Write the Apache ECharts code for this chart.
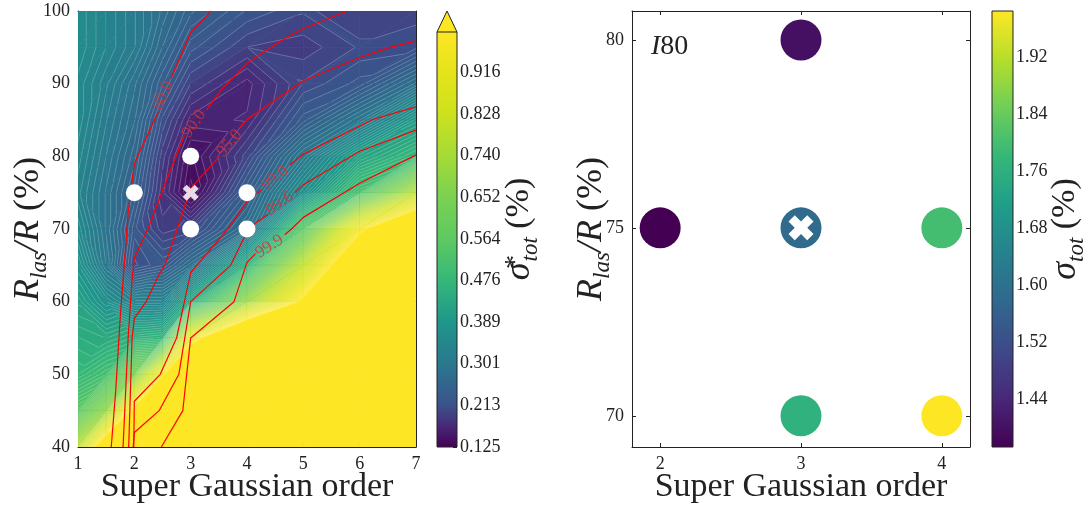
<!DOCTYPE html>
<html>
<head>
<meta charset="utf-8">
<style>html,body{margin:0;padding:0;background:#fff}#c{width:1089px;height:507px}</style>
<script src="https://cdn.jsdelivr.net/npm/echarts@6/dist/echarts.min.js"></script>
</head>
<body>
<div id="c"></div>
<script>
// ---------- data ----------
const fieldX = [1, 1.5, 2, 2.5, 3, 4, 5, 6, 7];
const fieldY = [100, 95, 90, 85, 80, 75, 70, 65, 60, 55, 50, 45, 40];
const fieldRows = [
  [0.36, 0.335, 0.31, 0.28, 0.25, 0.22, 0.205, 0.20, 0.20],
  [0.36, 0.335, 0.31, 0.265, 0.225, 0.195, 0.19, 0.205, 0.21],
  [0.35, 0.32, 0.285, 0.24, 0.195, 0.165, 0.205, 0.225, 0.285],
  [0.35, 0.31, 0.275, 0.21, 0.165, 0.17, 0.235, 0.30, 0.40],
  [0.34, 0.30, 0.26, 0.19, 0.14, 0.20, 0.305, 0.42, 0.48],
  [0.33, 0.29, 0.245, 0.18, 0.13, 0.24, 0.37, 0.52, 0.78],
  [0.35, 0.29, 0.225, 0.19, 0.20, 0.28, 0.56, 0.97, 1.25],
  [0.38, 0.30, 0.21, 0.23, 0.28, 0.46, 0.80, 1.2, 1.5],
  [0.42, 0.37, 0.33, 0.33, 0.44, 0.71, 1.03, 1.5, 1.8],
  [0.45, 0.44, 0.46, 0.47, 0.93, 1.3, 1.6, 2.0, 2.0],
  [0.475, 0.51, 0.65, 0.98, 1.3, 1.6, 2.0, 2.0, 2.0],
  [0.56, 0.70, 1.05, 1.4, 1.6, 2.0, 2.0, 2.0, 2.0],
  [0.78, 1.15, 1.5, 2.0, 2.0, 2.0, 2.0, 2.0, 2.0]
];
const GAP = ['-', '-'];
const contour80 = [[3.36,100],[3,97],[2.65,90.7],GAP,[2.42,86.1],[2,79],[1.89,72.2],[1.82,65],[1.75,57.9],[1.67,47.8],[1.59,40]];
const contour90 = [[5.78,100],[5,97.6],[4.58,95.8],[4,92.8],[3.57,89.4],[3.28,86.4],GAP,[2.89,82.9],[2.57,76.7],[2.24,70],[2,66],[1.96,63],[1.89,55],[1.8,40]];
const contour95 = [[7,95.9],[6.54,95],[6,93.6],[5,90.4],[4,85.1],[3.87,83.9],GAP,[3.51,80],[3,75.6],[2.76,70],[2.54,65],[2.45,63.9],[2.21,60],[2,57.7],[1.96,55],[1.9,40]];
const contour990 = [[7,86.8],[6.24,85.1],[5,80.3],[4.76,78.8],GAP,[4.25,75.4],[4,73.8],[3.66,70],[3,64],[2.75,55],[2.46,50],[2,46.3],[1.99,40]];
const contour996 = [[7,83.6],[6,80.7],[5,76.1],[4.85,75],GAP,[4.37,72],[4,70],[3.96,69],[3.71,65],[3,60],[2.79,50],[2.44,45],[2,42],[1.98,40]];
const contour999 = [[7,80.2],[6,76.3],[5,71.6],[4.79,70],[4.67,69.2],GAP,[4.15,66.6],[4,65.4],[3.77,60],[3,55],[2.86,45],[2.48,40]];
const contourLabels = [
  [2.51, 88.4, '80.0', 68], [3.06, 84.5, '90.0', 55], [3.69, 81.8, '95.0', 50],
  [4.49, 77, '99.0', 38], [4.58, 73.5, '99.6', 36], [4.4, 67.6, '99.9', 33]
];
const leftPoints = [[2,75],[3,80],[3,70],[4,75],[4,70]];
const leftBest = [[3,75]];
const rightX = [2, 3, 3, 3, 4, 4];
const rightY = [75, 80, 75, 70, 75, 70];
const rightValues = [1.373, 1.40, 1.585, 1.765, 1.80, 1.985];
const rightBest = [[3,75]];
const leftBarTicks = [0.125,0.213,0.301,0.389,0.476,0.564,0.652,0.740,0.828,0.916];
const leftBarMinor = [0.169,0.257,0.345,0.433,0.520,0.608,0.696,0.784,0.872,0.960];
const rightBarTicks = [1.44,1.52,1.60,1.68,1.76,1.84,1.92];
const rightXTicks = [2,3,4];
const rightYTicks = [70,75,80];
const leftMapStops = [
  [0.125,'#440154'],[0.169,'#482878'],[0.213,'#3b528b'],[0.301,'#2a788e'],[0.389,'#1f968b'],
  [0.476,'#35b779'],[0.564,'#5ec962'],[0.652,'#7ad151'],[0.740,'#a5db36'],[0.828,'#cde11d'],[0.916,'#e5e419'],[1.001,'#fde725']
];
const viridis = ['#440154','#482878','#3e4989','#31688e','#26828e','#1f9e89','#35b779','#6ece58','#b5de2b','#fde725'];

// ---------- helpers ----------
const LEVEL0 = 0.125, LEVELTOP = 1.001, NLEVELS = 100;
const DL = (LEVELTOP - LEVEL0) / NLEVELS;
const FONT = '"Liberation Serif", serif';
const INK = '#222';
function hex(c){ return [1,3,5].map(i => parseInt(c.substr(i,2),16)); }
function mix(a,b,t){ const A=hex(a),B=hex(b); return 'rgb('+A.map((v,i)=>Math.round(v+(B[i]-v)*t)).join(',')+')'; }
function leftColor(v){
  const s = leftMapStops;
  if (v <= s[0][0]) return s[0][1];
  for (let i=1;i<s.length;i++) if (v <= s[i][0]) return mix(s[i-1][1], s[i][1], (v-s[i-1][0])/(s[i][0]-s[i-1][0]));
  return s[s.length-1][1];
}
function rightColor(v){
  const min=1.373,max=1.985, t=Math.max(0,Math.min(1,(v-min)/(max-min)))*(viridis.length-1);
  const i=Math.min(viridis.length-2,Math.floor(t));
  return mix(viridis[i],viridis[i+1],t-i);
}
function clip(poly, level, above){
  const out=[];
  for (let i=0;i<poly.length;i++){
    const a=poly[i], b=poly[(i+1)%poly.length];
    const ia = above ? a[2]>=level : a[2]<=level;
    const ib = above ? b[2]>=level : b[2]<=level;
    if (ia) out.push(a);
    if (ia!==ib){ const t=(level-a[2])/(b[2]-a[2]); out.push([a[0]+(b[0]-a[0])*t,a[1]+(b[1]-a[1])*t,level]); }
  }
  return out;
}
function triangleShapes(tri, api, children){
  const vs=tri.map(p=>p[2]), lo=Math.min(...vs), hi=Math.max(...vs);
  const band=v=>Math.max(-1,Math.min(NLEVELS,Math.floor((v-LEVEL0)/DL)));
  const first=band(lo), last=band(hi);
  for (let b=first;b<=last;b++){
    let poly=tri;
    if (b>=0) poly=clip(poly,LEVEL0+b*DL,true);
    if (poly.length>2 && b<NLEVELS) poly=clip(poly,LEVEL0+(b+1)*DL,false);
    if (poly.length<3) continue;
    const col=leftColor(b>=NLEVELS?LEVELTOP:LEVEL0+(b+0.5)*DL);
    children.push({type:'polygon',silent:true,shape:{points:poly.map(p=>api.coord([p[0],p[1]]))},
      style:{fill:col,stroke:col,lineWidth:0.7}});
  }
  for (let b=Math.max(0,first+1);b<=Math.min(NLEVELS,last);b++){
    const lvl=LEVEL0+b*DL, pts=[];
    for (let i=0;i<3;i++){
      const a=tri[i], c=tri[(i+1)%3];
      if ((a[2]-lvl)*(c[2]-lvl)<0){ const t=(lvl-a[2])/(c[2]-a[2]); pts.push(api.coord([a[0]+(c[0]-a[0])*t,a[1]+(c[1]-a[1])*t])); }
    }
    if (pts.length===2) children.push({type:'line',silent:true,shape:{x1:pts[0][0],y1:pts[0][1],x2:pts[1][0],y2:pts[1][1]},
      style:{stroke:'rgba(255,255,255,0.33)',lineWidth:0.6}});
  }
}
const fieldCells=[];
for (let r=0;r<fieldY.length-1;r++) for (let c=0;c<fieldX.length-1;c++){
  fieldCells.push([fieldX[c],fieldY[r],fieldX[c+1],fieldY[r+1],fieldRows[r][c],fieldRows[r][c+1],fieldRows[r+1][c],fieldRows[r+1][c+1]]);
}
function renderField(params, api){
  const x0=api.value(0),y0=api.value(1),x1=api.value(2),y1=api.value(3);
  const a=[x0,y0,api.value(4)],b=[x1,y0,api.value(5)],c=[x0,y1,api.value(6)],d=[x1,y1,api.value(7)];
  const children=[];
  const tris = Math.abs(a[2]-d[2])<Math.abs(b[2]-c[2]) ? [[a,b,d],[a,d,c]] : [[a,b,c],[b,d,c]];
  tris.forEach(t=>triangleShapes(t,api,children));
  return {type:'group',children};
}
function renderBar(stops, topV, arrowV, border){
  return function(params, api){
    const bl=api.coord([0,stops[0][0]]), tr=api.coord([1,topV]);
    const span=topV-stops[0][0];
    const colorStops=stops.map(s=>({offset:(s[0]-stops[0][0])/span,color:s[1]}));
    const w=tr[0]-bl[0], h=bl[1]-tr[1];
    const children=[{type:'rect',silent:true,shape:{x:bl[0],y:tr[1],width:w,height:h},
      style:{fill:{type:'linear',x:0,y:1,x2:0,y2:0,colorStops}}}];
    if (arrowV!=null){
      const tip=api.coord([0.5,arrowV]);
      children.push({type:'polygon',silent:true,shape:{points:[[bl[0],tr[1]],[tr[0],tr[1]],tip]},
        style:{fill:stops[stops.length-1][1],stroke:border,lineWidth:1}});
      children.push({type:'polyline',silent:true,shape:{points:[[bl[0],tr[1]],[bl[0],bl[1]],[tr[0],bl[1]],[tr[0],tr[1]]]},
        style:{fill:'none',stroke:border,lineWidth:1}});
    } else {
      children.push({type:'rect',silent:true,shape:{x:bl[0],y:tr[1],width:w,height:h},style:{fill:'none',stroke:border,lineWidth:1}});
    }
    return {type:'group',children};
  };
}
function splitGaps(a){ const out=[[]]; a.forEach(p=>{ if(p===GAP) out.push([]); else out[out.length-1].push(p); }); return out; }
const contourSeries=[];
[contour80,contour90,contour95,contour990,contour996,contour999].forEach(c=>splitGaps(c).forEach(seg=>{
  contourSeries.push({type:'line',xAxisIndex:0,yAxisIndex:0,data:seg,showSymbol:false,symbol:'none',silent:true,z:5,
    lineStyle:{color:'#ff0000',width:1.2},animation:false});
}));
const CROSS='path://M5,0 L10,5 L15,0 L20,5 L15,10 L20,15 L15,20 L10,15 L5,20 L0,15 L5,10 L0,5 Z';
const tickLabel={color:INK,fontFamily:FONT,fontSize:18,margin:8,show:true};
function mainAxis(extra){ return Object.assign({type:'value',splitLine:{show:false},axisLine:{show:true,onZero:false,lineStyle:{color:INK,width:1}},nameMoveOverlap:false,
  axisTick:{show:true,inside:true,length:4,lineStyle:{color:INK,width:1}},axisLabel:tickLabel,nameTextStyle:{color:INK,fontFamily:FONT}},extra); }
function mirrorAxis(extra){ const o=mainAxis(extra); o.axisLabel={show:false}; return o; }

const yRich={
  i:{fontFamily:FONT,fontStyle:'italic',fontSize:36,color:INK,lineHeight:40,verticalAlign:'top'},
  s:{fontFamily:FONT,fontStyle:'italic',fontSize:23,color:INK,lineHeight:24,padding:[26,0,0,0],verticalAlign:'bottom'},
  r:{fontFamily:FONT,fontSize:36,color:INK,lineHeight:40,verticalAlign:'top'}
};
const cbRich={
  g:{fontFamily:FONT,fontStyle:'italic',fontSize:36,color:INK,lineHeight:40,verticalAlign:'top'},
  u:{fontFamily:FONT,fontSize:28,color:INK,lineHeight:26,width:1,verticalAlign:'top'},
  s:{fontFamily:FONT,fontStyle:'italic',fontSize:23,color:INK,lineHeight:24,padding:[26,0,0,0],verticalAlign:'bottom'},
  r:{fontFamily:FONT,fontSize:34,color:INK,lineHeight:40,verticalAlign:'top'}
};
const xNameStyle={color:INK,fontFamily:FONT,fontSize:34};

const option={
  backgroundColor:'#fff',animation:false,
  grid:[
    {left:78,top:11,width:338,height:436,outerBoundsMode:'none'},
    {left:632,top:11,width:338,height:436,outerBoundsMode:'none'},
    {left:437,top:11,width:20,height:436,outerBoundsMode:'none'},
    {left:992,top:11,width:21,height:436,outerBoundsMode:'none'}
  ],
  xAxis:[
    mainAxis({gridIndex:0,min:1,max:7,interval:1,name:'Super Gaussian order',nameLocation:'middle',nameGap:23,nameTextStyle:xNameStyle}),
    mirrorAxis({gridIndex:0,min:1,max:7,interval:1,position:'top'}),
    mainAxis({gridIndex:1,min:1.8,max:4.2,name:'Super Gaussian order',nameLocation:'middle',nameGap:23,nameTextStyle:xNameStyle,
      axisLabel:Object.assign({},tickLabel,{customValues:rightXTicks}),axisTick:{show:true,inside:true,length:4,customValues:rightXTicks,lineStyle:{color:INK}}}),
    Object.assign(mirrorAxis({gridIndex:1,min:1.8,max:4.2,position:'top'}),{axisTick:{show:true,inside:true,length:4,customValues:rightXTicks,lineStyle:{color:INK}}}),
    {type:'value',gridIndex:2,min:0,max:1,show:false},
    {type:'value',gridIndex:3,min:0,max:1,show:false}
  ],
  yAxis:[
    mainAxis({gridIndex:0,min:40,max:100,interval:10,name:'{i|R}{s|las}{i|/R}{r| (%)}',nameLocation:'middle',nameGap:27,nameRotate:90,
      nameTextStyle:{rich:yRich,fontFamily:FONT,color:INK}}),
    mirrorAxis({gridIndex:0,min:40,max:100,interval:10,position:'right'}),
    mainAxis({gridIndex:1,min:69.17,max:80.77,name:'{i|R}{s|las}{i|/R}{r| (%)}',nameLocation:'middle',nameGap:18,nameRotate:90,
      nameTextStyle:{rich:yRich,fontFamily:FONT,color:INK},
      axisLabel:Object.assign({},tickLabel,{customValues:rightYTicks}),axisTick:{show:true,inside:true,length:4,customValues:rightYTicks,lineStyle:{color:INK}}}),
    Object.assign(mirrorAxis({gridIndex:1,min:69.17,max:80.77,position:'right'}),{axisTick:{show:true,inside:true,length:4,customValues:rightYTicks,lineStyle:{color:INK}}}),
    {type:'value',gridIndex:2,position:'right',min:0.125,max:1.0453,splitLine:{show:false},axisLine:{show:false,onZero:false},nameMoveOverlap:false,
      axisTick:{show:true,inside:true,length:4,customValues:leftBarTicks,lineStyle:{color:INK}},
      axisLabel:Object.assign({},tickLabel,{margin:3,customValues:leftBarTicks,formatter:v=>v.toFixed(3)}),
      name:'{g|σ}{u|*}{s|tot}{r| (%)}',nameLocation:'middle',nameGap:45,nameRotate:90,nameTextStyle:{rich:cbRich,fontFamily:FONT,color:INK}},
    {type:'value',gridIndex:3,position:'right',min:1.373,max:1.985,splitLine:{show:false},axisLine:{show:false,onZero:false},nameMoveOverlap:false,
      axisTick:{show:true,inside:true,length:4,customValues:rightBarTicks,lineStyle:{color:INK}},
      axisLabel:Object.assign({},tickLabel,{margin:3,customValues:rightBarTicks,formatter:v=>v.toFixed(2)}),
      name:'{g|σ}{s|tot}{r| (%)}',nameLocation:'middle',nameGap:35,nameRotate:90,nameTextStyle:{rich:cbRich,fontFamily:FONT,color:INK}},
    {type:'value',gridIndex:2,position:'right',min:0.125,max:1.0453,splitLine:{show:false},axisLine:{show:false,onZero:false},
      axisLabel:{show:false},axisTick:{show:true,inside:true,length:2,customValues:leftBarMinor,lineStyle:{color:INK}}}
  ],
  series:[
    {type:'custom',xAxisIndex:0,yAxisIndex:0,data:fieldCells,renderItem:renderField,silent:true,z:2,clip:true,animation:false,
      encode:{x:[0,2],y:[1,3]}},
    ...contourSeries,
    {type:'scatter',xAxisIndex:0,yAxisIndex:0,data:contourLabels.map(d=>({value:[d[0],d[1]],text:d[2],label:{rotate:d[3]}})),symbolSize:0,silent:true,z:6,
      label:{show:true,position:'inside',color:'#e03030',fontFamily:FONT,fontSize:17,formatter:p=>p.data.text}},
    {type:'scatter',xAxisIndex:0,yAxisIndex:0,data:leftPoints,symbol:'circle',symbolSize:17,itemStyle:{color:'#fff',opacity:1},silent:true,z:7},
    {type:'scatter',xAxisIndex:0,yAxisIndex:0,data:leftBest,symbol:CROSS,symbolSize:16,itemStyle:{color:'#fff',opacity:0.85},silent:true,z:7},
    {type:'scatter',xAxisIndex:2,yAxisIndex:2,data:rightX.map((x,i)=>[x,rightY[i],rightValues[i]]),symbol:'circle',symbolSize:41,
      itemStyle:{color:p=>rightColor(p.data[2]),opacity:1},silent:true,z:5},
    {type:'scatter',xAxisIndex:2,yAxisIndex:2,data:rightBest,symbol:CROSS,symbolSize:25,itemStyle:{color:'#fff',opacity:1},silent:true,z:6},
    {type:'custom',xAxisIndex:4,yAxisIndex:4,data:[[0,0.125]],renderItem:renderBar(leftMapStops,1.001,1.0453,'#222'),silent:true,clip:false,z:1},
    {type:'custom',xAxisIndex:5,yAxisIndex:5,data:[[0,1.373]],
      renderItem:renderBar(viridis.map((c,i)=>[1.373+(1.985-1.373)*i/(viridis.length-1),c]),1.985,null,'#222'),silent:true,clip:false,z:1}
  ],
  graphic:[{type:'text',left:651,top:33,style:{rich:{a:{fontFamily:FONT,fontStyle:'italic',fontSize:28,fill:INK},b:{fontFamily:FONT,fontSize:28,fill:INK}},text:'{a|I}{b|80}'},silent:true,z:20}]
};
const chart=echarts.init(document.getElementById('c'),null,{renderer:'canvas'});
chart.setOption(option);
</script>
</body>
</html>
